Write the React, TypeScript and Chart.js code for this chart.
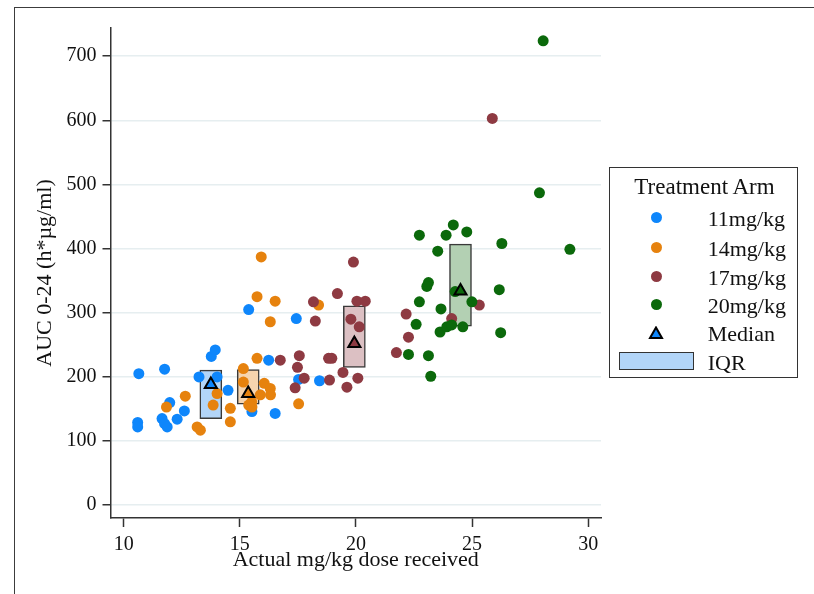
import React, { useEffect, useRef } from 'react';
import { Chart, registerables } from 'chart.js';
Chart.register(...registerables);

// ---- data ----
const xTicks = [10, 15, 20, 25, 30];
const yTicks = [0, 100, 200, 300, 400, 500, 600, 700];

const armLabels = ['11mg/kg', '14mg/kg', '17mg/kg', '20mg/kg'];

const dose11 = [10.65, 10.6, 10.6, 11.76, 11.65, 11.76, 11.87, 11.98, 12.3, 12.61, 13.24, 13.77, 13.94, 14.02, 14.49, 15.52, 15.38, 16.24, 16.52, 17.43, 17.53, 18.43];
const auc11 = [205, 129, 122, 212, 135, 127, 122, 160, 134, 147, 200, 232, 242, 200, 179, 146, 305, 226, 143, 291, 196, 194];

const dose14 = [11.84, 12.65, 13.16, 13.3, 13.85, 14.02, 14.59, 14.59, 15.15, 15.15, 15.74, 16.05, 16.31, 16.32, 15.88, 15.51, 15.52, 15.38, 15.92, 15.74, 16.52, 18.39, 16.31, 17.53];
const auc14 = [153, 170, 122, 117, 156, 174, 151, 130, 213, 192, 229, 190, 182, 172, 172, 161, 153, 156, 387, 325, 318, 312, 286, 158];

const dose17 = [19.89, 19.2, 18.17, 20.04, 20.4, 18.25, 19.78, 20.14, 22.16, 22.26, 21.74, 16.74, 17.56, 17.48, 18.82, 18.96, 19.44, 17.77, 18.86, 20.08, 17.38, 19.61, 25.87, 25.31, 24.12];
const auc17 = [379, 330, 317, 318, 318, 287, 290, 278, 298, 262, 238, 226, 233, 215, 229, 229, 207, 198, 195, 198, 183, 184, 603, 312, 291];

const dose20 = [22.73, 23.88, 24.19, 24.77, 23.52, 26.28, 29.21, 23.12, 23.05, 24.27, 26.17, 22.73, 23.66, 24.99, 22.59, 23.62, 23.91, 24.12, 24.6, 26.23, 22.26, 23.12, 23.22, 28.06, 27.9];
const auc20 = [421, 421, 437, 426, 396, 408, 399, 347, 341, 333, 336, 317, 306, 317, 282, 270, 278, 281, 278, 269, 235, 233, 201, 724, 487];

const medianDose = [13.75, 15.36, 19.93, 24.5];
const medianAuc = [188, 174, 252, 334];
const q1Auc = [135, 157.5, 214.7, 279];
const q3Auc = [210.5, 211.6, 310.7, 407];

// ---- styles ----
const armColors = ['#0e86fb', '#e6820e', '#8e3a42', '#0b690b'];
const boxFills = ['#b2d5f8', '#f6d4ae', '#dcc0c3', '#b3d0b3'];
const FONT = "'Liberation Serif', 'Times New Roman', serif";

const doses = [dose11, dose14, dose17, dose20];
const aucs = [auc11, auc14, auc17, auc20];

function Legend() {
  const rowsY = [216.7, 246, 275, 303.3, 331.7];
  const L = 609;
  const T = 167;
  const textStyle = (cy: number): React.CSSProperties => ({
    position: 'absolute',
    left: 706.7 - L,
    top: cy - 11.4 - T,
    font: `22px ${FONT}`,
    lineHeight: '26px',
    color: '#111',
    whiteSpace: 'nowrap',
  });
  return (
    <div
      style={{
        position: 'absolute',
        left: L,
        top: T,
        width: 189,
        height: 211,
        boxSizing: 'border-box',
        border: '1.5px solid #333',
        background: '#fff',
      }}
    >
      <div
        style={{
          position: 'absolute',
          left: 0,
          width: 189,
          textAlign: 'center',
          top: 173.9 - T - 1,
          font: `23px ${FONT}`,
          lineHeight: '26px',
          color: '#111',
          whiteSpace: 'nowrap',
        }}
      >
        Treatment Arm
      </div>
      {armLabels.map((lab, i) => (
        <React.Fragment key={lab}>
          <div
            style={{
              position: 'absolute',
              left: 655 - 5.5 - L,
              top: rowsY[i] - 5.5 - T,
              width: 11,
              height: 11,
              borderRadius: '50%',
              background: armColors[i],
            }}
          />
          <div style={textStyle(rowsY[i])}>{lab}</div>
        </React.Fragment>
      ))}
      <svg
        style={{ position: 'absolute', left: 655 - 8 - L, top: rowsY[4] - 7 - T }}
        width={16}
        height={14}
      >
        <polygon points="8,1.5 14,12 2,12" fill={armColors[0]} stroke="#000" strokeWidth={2} />
      </svg>
      <div style={textStyle(rowsY[4])}>Median</div>
      <div
        style={{
          position: 'absolute',
          left: 618.3 - L,
          top: 350.7 - T,
          width: 74.4,
          height: 18.6,
          boxSizing: 'border-box',
          border: '1.5px solid #333',
          background: boxFills[0],
        }}
      />
      <div style={textStyle(360)}>IQR</div>
    </div>
  );
}

export default function App() {
  const ref = useRef<HTMLCanvasElement>(null);
  useEffect(() => {
    if (!ref.current) return;
    const scatterSets = armLabels.map((lab, i) => ({
      type: 'scatter' as const,
      label: lab,
      data: doses[i].map((x, j) => ({ x, y: aucs[i][j] })),
      backgroundColor: armColors[i],
      borderWidth: 0,
      pointRadius: 5.5,
      pointHoverRadius: 5.5,
      order: 8 - i,
    }));
    const chart = new Chart(ref.current, {
      type: 'scatter',
      data: {
        datasets: [
          {
            type: 'bar',
            label: 'IQR',
            data: medianDose.map((x, i) => ({ x, y: [q1Auc[i], q3Auc[i]] })) as any,
            backgroundColor: boxFills,
            borderColor: '#3a3a3a',
            borderWidth: 1.5,
            borderSkipped: false,
            barThickness: 22,
            order: 20,
          } as any,
          ...scatterSets,
          {
            type: 'scatter',
            label: 'Median',
            data: medianDose.map((x, i) => ({ x, y: medianAuc[i] })),
            pointStyle: 'triangle',
            pointRadius: 7,
            pointHoverRadius: 7,
            backgroundColor: armColors,
            borderColor: '#000',
            borderWidth: 2,
            order: 0,
          } as any,
        ],
      },
      options: {
        responsive: false,
        animation: false,
        devicePixelRatio: 1,
        events: [],
        layout: { padding: { left: 0, top: 28, right: 213, bottom: 0 } },
        plugins: { legend: { display: false }, tooltip: { enabled: false } },
        scales: {
          x: {
            type: 'linear',
            min: 9.43,
            max: 30.55,
            offset: false,
            afterFit: (s: any) => {
              s.height = 76;
            },
            afterBuildTicks: (s: any) => {
              s.ticks = xTicks.map((v) => ({ value: v }));
            },
            grid: {
              display: true,
              offset: false,
              drawOnChartArea: false,
              drawTicks: true,
              tickLength: 9,
              tickColor: '#333',
              tickWidth: 1.5,
            },
            border: { display: true, color: '#333', width: 1.5 },
            ticks: {
              padding: 6,
              color: '#111',
              font: { family: FONT, size: 20 },
              maxRotation: 0,
            },
            title: {
              display: true,
              text: 'Actual mg/kg dose received',
              color: '#111',
              font: { family: FONT, size: 22 },
              padding: { top: 0, bottom: 21 },
            },
          },
          y: {
            type: 'linear',
            min: -20,
            max: 744,
            offset: false,
            afterFit: (s: any) => {
              s.width = 110.5;
            },
            afterBuildTicks: (s: any) => {
              s.ticks = yTicks.map((v) => ({ value: v }));
            },
            grid: {
              display: true,
              offset: false,
              drawOnChartArea: true,
              color: '#e6eef0',
              lineWidth: 1.5,
              drawTicks: true,
              tickLength: 8,
              tickColor: '#333',
              tickWidth: 1.5,
            },
            border: { display: true, color: '#333', width: 1.5 },
            ticks: {
              padding: 6,
              color: '#111',
              font: { family: FONT, size: 20 },
            },
            title: {
              display: true,
              text: 'AUC 0-24 (h*µg/ml)',
              color: '#111',
              font: { family: FONT, size: 22 },
              padding: { top: 32, bottom: 0 },
            },
          },
        },
      },
    });
    return () => chart.destroy();
  }, []);

  return (
    <div
      style={{
        position: 'absolute',
        left: 0,
        top: 0,
        width: 814,
        height: 594,
        overflow: 'hidden',
        background: '#fff',
      }}
    >
      <div
        style={{
          position: 'absolute',
          left: 14,
          top: 7,
          width: 1000,
          height: 1000,
          border: '1.5px solid #3c3c3c',
          boxSizing: 'border-box',
        }}
      />
      <canvas ref={ref} width={814} height={594} style={{ position: 'absolute', left: 0, top: 0 }} />
      <Legend />
    </div>
  );
}
